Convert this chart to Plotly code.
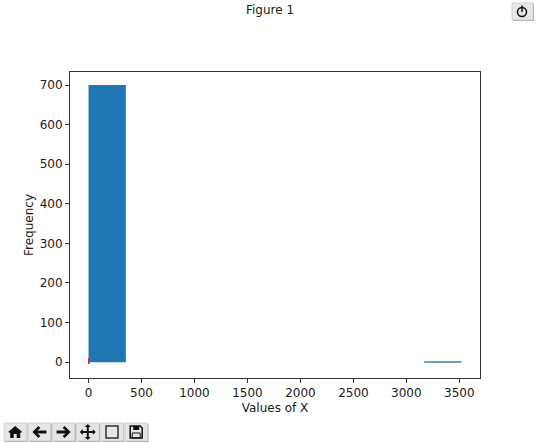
import plotly.graph_objects as go

# Histogram data
bin_lefts = [0, 352, 704, 1056, 1408, 1760, 2112, 2464, 2816, 3168]
bin_counts = [700, 0, 0, 0, 0, 0, 0, 0, 0, 1]
bin_width = 352
red_lefts = [0]
red_counts = [10]
red_bases = [-4]
red_width = 12
x_ticks = [0, 500, 1000, 1500, 2000, 2500, 3000, 3500]
y_ticks = [0, 100, 200, 300, 400, 500, 600, 700]
title = "Figure 1"
x_label = "Values of X"
y_label = "Frequency"

W, H = 540, 443
L, R, T, B = 70, 480, 72, 378
FONT = "DejaVu Sans"
TXT = "#1a1a1a"
INK = "#111111"


def px(x):
    return (x - L) / (R - L)


def py(y):
    return (B - y) / (B - T)


fig = go.Figure()
bar_colors = ["#1f77b4"] * (len(bin_counts) - 1) + ["#6f9fb8"]
fig.add_bar(x=[v + bin_width / 2 for v in bin_lefts], y=bin_counts, width=bin_width,
            marker=dict(color=bar_colors, line=dict(width=0)))
fig.add_bar(x=[v + red_width / 2 for v in red_lefts], y=[c - b for c, b in zip(red_counts, red_bases)],
            base=red_bases, width=red_width, marker=dict(color="#d62750", line=dict(width=0)))

shapes, annos = [], []


def button(x0, y0, x1, y1):
    shapes.append(dict(type="rect", xref="paper", yref="paper", x0=px(x1 + 1), x1=px(x0 + 1),
                       y0=py(y1 + 1), y1=py(y0 + 1), fillcolor="#a0a0a0", line=dict(width=0), layer="above"))
    shapes.append(dict(type="rect", xref="paper", yref="paper", x0=px(x0), x1=px(x1),
                       y0=py(y1), y1=py(y0), fillcolor="#e6e6e6", line=dict(color="#d0d0d0", width=1), layer="above"))


def poly(cx, cy, pts, fill=INK, line=None, width=0):
    path = "M " + " L ".join("%.5f,%.5f" % (px(cx + a), py(cy + b)) for a, b in pts) + " Z"
    shapes.append(dict(type="path", xref="paper", yref="paper", path=path, fillcolor=fill,
                       line=dict(color=line or fill, width=width), layer="above"))


def icon_home(c, y):
    poly(c, y, [(-7, 0), (0, -6), (7, 0), (5, 1), (5, 6), (1.5, 6), (1.5, 2), (-1.5, 2), (-1.5, 6), (-5, 6), (-5, 1)])


def icon_left(c, y):
    poly(c, y, [(-7, 0), (-1, -6), (1, -4), (-2, -1.5), (7, -1.5), (7, 1.5), (-2, 1.5), (1, 4), (-1, 6)])


def icon_right(c, y):
    poly(c, y, [(7, 0), (1, -6), (-1, -4), (2, -1.5), (-7, -1.5), (-7, 1.5), (2, 1.5), (-1, 4), (1, 6)])


def icon_move(c, y):
    poly(c, y, [(-1, -5), (-3, -5), (0, -8), (3, -5), (1, -5), (1, -1), (5, -1), (5, -3), (8, 0), (5, 3), (5, 1), (1, 1),
                (1, 5), (3, 5), (0, 8), (-3, 5), (-1, 5), (-1, 1), (-5, 1), (-5, 3), (-8, 0), (-5, -3), (-5, -1), (-1, -1)])


def icon_rect(c, y):
    poly(c, y, [(-6, -6), (6, -6), (6, 6), (-6, 6)], fill="rgba(0,0,0,0)", line="#333333", width=1.5)


def icon_save(c, y):
    poly(c, y, [(-6, -6), (4, -6), (6, -4), (6, 6), (-6, 6)], fill="rgba(0,0,0,0)", line=INK, width=1.5)
    poly(c, y, [(-3, -6), (3, -6), (3, -2), (-3, -2)], fill=INK)
    poly(c, y, [(-4, 1), (4, 1), (4, 6), (-4, 6)], fill="rgba(0,0,0,0)", line=INK, width=1)


# Toolbar
for i, draw in enumerate([icon_home, icon_left, icon_right, icon_move, icon_rect, icon_save]):
    x0 = 4 + i * 24.2
    button(x0, 423, x0 + 22.5, 441)
    draw(x0 + 11.2, 432)

# Power button
button(512, 3, 533, 20)
shapes.append(dict(type="circle", xref="paper", yref="paper", x0=px(517.5), x1=px(526.5), y0=py(16.5), y1=py(7.5),
                   line=dict(color=INK, width=1.5), layer="above"))
shapes.append(dict(type="line", xref="paper", yref="paper", x0=px(522), x1=px(522), y0=py(12), y1=py(5.5),
                   line=dict(color=INK, width=1.5), layer="above"))

annos.append(dict(xref="paper", yref="paper", x=px(270), y=py(10), text=title, showarrow=False,
                  xanchor="center", yanchor="middle", font=dict(family=FONT, size=12, color=TXT)))

fig.update_layout(
    width=W, height=H, margin=dict(l=L, r=W - R, t=T, b=H - B, autoexpand=False),
    paper_bgcolor="white", plot_bgcolor="white", showlegend=False, barmode="overlay",
    font=dict(family=FONT, size=12, color=TXT), shapes=shapes, annotations=annos,
)
fig.update_xaxes(range=[-175, 3695], tickvals=x_ticks, ticks="outside", ticklen=4, tickcolor="#333",
                 showgrid=False, zeroline=False, showline=True, linecolor="#333", linewidth=1, mirror=True,
                 title=dict(text=x_label, standoff=4, font=dict(size=12)), tickfont=dict(size=12))
fig.update_yaxes(range=[-40, 733], tickvals=y_ticks, ticks="outside", ticklen=4, tickcolor="#333",
                 showgrid=False, zeroline=False, showline=True, linecolor="#333", linewidth=1, mirror=True,
                 title=dict(text=y_label, standoff=3, font=dict(size=12)), tickfont=dict(size=12))

fig.write_html("out.html", config=dict(displayModeBar=False),
               post_script="document.body.style.margin='0';document.body.style.overflow='hidden';")
